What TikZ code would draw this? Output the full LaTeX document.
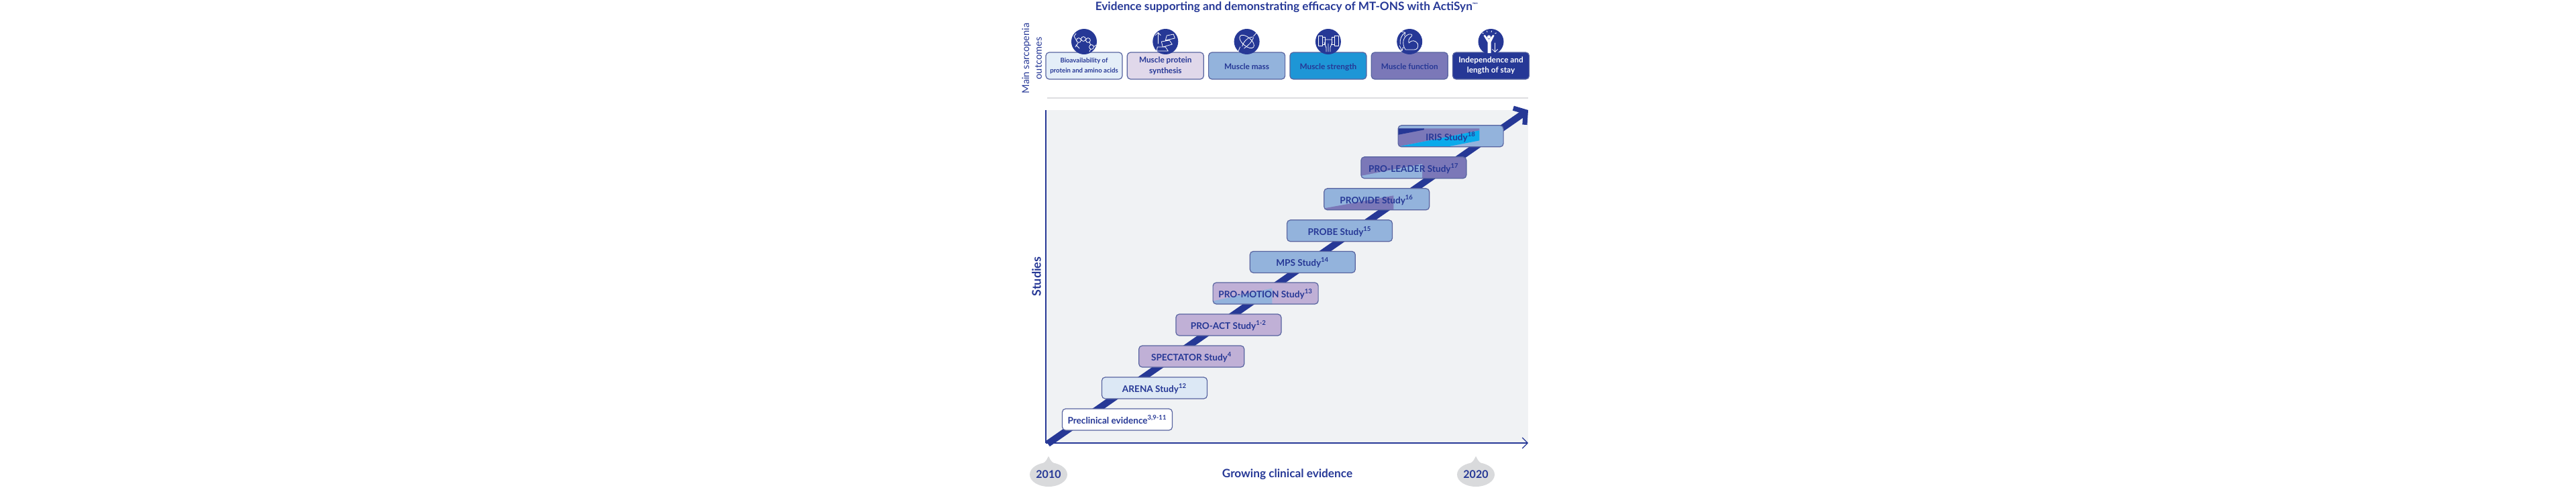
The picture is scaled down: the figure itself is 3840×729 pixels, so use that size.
\documentclass[tikz,border=0pt]{standalone}
\usepackage{fontspec}
\setmainfont{Lato}
\usetikzlibrary{shapes.geometric, arrows.meta, positioning}
\definecolor{navy}{RGB}{38,56,150}
\definecolor{edge}{RGB}{88,100,160}
\definecolor{panelgray}{RGB}{240,242,244}
\definecolor{rulegray}{RGB}{222,222,224}
\definecolor{yeargray}{RGB}{217,218,220}
\definecolor{paleblue}{RGB}{228,238,248}
\definecolor{arenablue}{RGB}{220,232,245}
\definecolor{palelilac}{RGB}{224,216,234}
\definecolor{lilac}{RGB}{192,176,214}
\definecolor{midblue}{RGB}{147,179,220}
\definecolor{strongblue}{RGB}{30,150,214}
\definecolor{cyanblue}{RGB}{10,170,235}
\definecolor{purple}{RGB}{123,120,184}

\begin{document}
\begin{tikzpicture}[x=0.5pt, y=-0.5pt, font=\bfseries, text=navy]
		\tikzstyle{outcome} = [rectangle, rounded corners=2.5pt, minimum width=57pt, minimum height=20pt, inner sep=0pt, align=center, draw=edge, line width=0.6pt, font=\bfseries\fontsize{5.9}{7.6}\selectfont, node distance=60.65pt]
		\tikzstyle{oneline} = [text height=5.2pt, text depth=0.2pt]
		\tikzstyle{ball} = [circle, fill=navy, minimum size=19pt, inner sep=0pt, node distance=18pt]
		\tikzstyle{study} = [rectangle, rounded corners=2.5pt, minimum width=78.5pt, minimum height=16pt, inner sep=0pt, text height=7.6pt, text depth=1.1pt, draw=edge, line width=0.6pt, font=\bfseries\fontsize{6.8}{8}\selectfont]
		\tikzstyle{tone} = [shift={(path picture bounding box.center)}, sharp corners]
		\tikzstyle{year} = [ellipse, fill=yeargray, minimum width=28pt, minimum height=18pt, inner sep=0pt, font=\bfseries\fontsize{8}{10}\selectfont]
		\tikzstyle{icon} = [white, line width=0.4pt, line cap=round, line join=round]
		\tikzstyle{arrow} = [->, >={Straight Barb[length=4pt, width=8pt]}]
		%-------------------------------------------------------
		% axes and panel
		\useasboundingbox (0,0) rectangle (3840,729);
		\coordinate (origin) at (1559,660);
		\coordinate (ytop) at (1559,164);
		\coordinate (xend) at (2278,660);
		\coordinate (runstart) at (1562,661);
		\coordinate (runend) at (2278,164);
		\fill [panelgray] (ytop) rectangle (xend);
		\draw [navy, line width=0.6pt] (origin) -- (ytop);
		\draw [arrow, navy, line width=0.6pt] (origin) -- (xend);
		\draw [navy, line width=5pt, -{Straight Barb[length=6pt, width=15pt, line width=3.6pt]}] (runstart) -- (runend);

		\node (title) at (1918,15) [anchor=base, font=\bfseries\fontsize{8.6}{10}\selectfont] {Evidence supporting and demonstrating efficacy of MT-ONS with ActiSyn\raisebox{2.6pt}{\fontsize{3.6}{4}\selectfont ™*}};
		\node (main) at (1530,87) [rotate=90, font=\fontsize{7.3}{9}\selectfont] {Main sarcopenia};
		\node (outc) at (1548,87) [rotate=90, font=\fontsize{7.3}{9}\selectfont] {outcomes};

		% top row
		\node (o1) at (1616,98) [outcome, fill=paleblue, font=\bfseries\fontsize{4.8}{7.4}\selectfont] {Bioavailability of\\protein and amino acids};
		\node (o2) [outcome, right of=o1, fill=palelilac] {Muscle protein\\synthesis};
		\node (o3) [outcome, oneline, right of=o2, fill=midblue] {Muscle mass};
		\node (o4) [outcome, oneline, right of=o3, fill=strongblue] {Muscle strength};
		\node (o5) [outcome, oneline, right of=o4, fill=purple] {Muscle function};
		\node (o6) [outcome, right of=o5, fill=navy, text=white] {Independence and\\length of stay};
		\foreach \n in {1,...,6}
			\node (ic\n) [ball, above of=o\n] {};
		\coordinate (ruleleft) at (1561,146);
		\coordinate (ruleright) at (2278,146);
		\draw [rulegray, line width=0.8pt] (ruleleft) -- (ruleright);

		% icons
		\begin{scope}[shift={(ic1)}, icon]
			\foreach \cx/\cy in {-8/-2,-1/-4,6/-2,11/8}
				\draw (\cx,\cy) circle (3.4);
			\draw (-11,-1) -- (-15,-8) -- (-12,-12) (-9,2) -- (-13,8) (-12,5) -- (-7,10) (8,1) -- (10,5) (14,8) -- (18,5) (10,11) -- (8,15);
		\end{scope}
		\begin{scope}[shift={(ic2)}, icon]
			\draw [-{Straight Barb[length=2pt, width=4pt]}] (-11,3) -- (-11,-14);
			\draw (-13,14) -- (4,14) -- (0,8) -- (-12,8) -- (-13,14) (-4,8) -- (10,4) -- (6,-2) -- (-6,0) -- (-4,8) (0,-2) -- (14,-5) -- (12,-11) -- (2,-9) -- (0,-2);
		\end{scope}
		\begin{scope}[shift={(ic3)}, icon]
			\draw [rotate=-40] (0,0) ellipse (13 and 6.5);
			\draw (-13,15) -- (-10,8) (16,-15) -- (10,-8) (-7,7) .. controls (-4,-2) and (3,-7) .. (9,-7) (-4,10) .. controls (2,6) and (8,0) .. (10,-6);
		\end{scope}
		\begin{scope}[shift={(ic4)}, icon]
			\draw (-15,-9) rectangle (-9,6) (15,-9) rectangle (9,6) (-9,-7) rectangle (-5,4) (9,-7) rectangle (5,4);
			\draw (-5,-3) -- (5,-3) (-6,1) -- (-3,9) -- (-3,15) (6,1) -- (3,9) -- (3,15) (0,3) -- (0,15);
		\end{scope}
		\begin{scope}[shift={(ic5)}, icon]
			\draw (-6,12) .. controls (-12,4) and (-10,-8) .. (-1,-11) .. controls (4,-12) and (5,-9) .. (2,-7) .. controls (-1,-5) and (-2,-1) .. (-1,2) .. controls (3,-3) and (9,-2) .. (12,3) .. controls (14,8) and (11,13) .. (6,12) -- cycle;
			\draw [-{Straight Barb[length=2pt, width=4pt]}] (-14,4) .. controls (-15,-3) and (-12,-10) .. (-6,-14);
			\draw [-{Straight Barb[length=2pt, width=4pt]}] (-15,6) -- (-11,14);
		\end{scope}
		\begin{scope}[shift={(ic6)}, icon]
			\fill (-3,-7) circle (2.6);
			\fill (-11,-9) -- (-9,-10) -- (-3,-3) -- (3,-10) -- (5,-9) -- (0,1) -- (0,17) -- (-5,17) -- (-5,1) -- cycle;
			\draw [-{Straight Barb[length=2pt, width=4pt]}] (6,2) -- (6,16);
			\draw (-13,-13) -- (-11,-12) (-6,-16) -- (-5.5,-14) (1,-16) -- (0.5,-14) (8,-13) -- (6,-12);
		\end{scope}

		% study steps
		\node (s0) at (1665.5,625) [study, minimum width=82pt, fill=white] {Preclinical evidence\textsuperscript{3,9-11}};
		\node (s1) at (1721,578) [study, fill=arenablue] {ARENA Study\textsuperscript{12}};
		\node (s2) [study, above of=s1, node distance=23.5pt, xshift=27.6pt, fill=lilac] {SPECTATOR Study\textsuperscript{4}};
		\node (s3) [study, above of=s2, node distance=23.5pt, xshift=27.6pt, fill=lilac] {PRO-ACT Study\textsuperscript{1-2}};
		\node (s4) [study, above of=s3, node distance=23.5pt, xshift=27.6pt, fill=lilac, path picture={\fill [midblue, tone] (-59.5,16) -- (80,-14) -- (80,18) -- cycle;}] {PRO-MOTION Study\textsuperscript{13}};
		\node (s5) [study, above of=s4, node distance=23.3pt, xshift=27.6pt, fill=midblue] {MPS Study\textsuperscript{14}};
		\node (s6) [study, above of=s5, node distance=23.3pt, xshift=27.6pt, fill=midblue] {PROBE Study\textsuperscript{15}};
		\node (s7) [study, above of=s6, node distance=23.5pt, xshift=27.6pt, fill=midblue, path picture={\fill [purple, tone] (-72,16) -- (80,-12) -- (80,18) -- cycle;}] {PROVIDE Study\textsuperscript{16}};
		\node (s8) [study, above of=s7, node distance=23.5pt, xshift=27.6pt, fill=purple, path picture={\fill [midblue, tone] (-65,16) -- (80,-12) -- (80,18) -- cycle;}] {PRO-LEADER Study\textsuperscript{17}};
		\node (s9) [study, above of=s8, node distance=23.5pt, xshift=27.6pt, fill=midblue, path picture={
			\fill [purple, tone] (-80,-18) -- (80,-18) -- (80,-15) -- (-75,16) -- (-80,18) -- cycle;
			\fill [cyanblue, tone] (-75,16) -- (80,-15) -- (80,0) -- (-2.5,16) -- cycle;
			\fill [navy, tone] (-80,-18) -- (-2.5,-18) -- (-2.5,-16) -- (-80,-1) -- cycle;}] {IRIS Study\textsuperscript{18}};

		% bottom labels
		\node (studies) at (1545,412) [rotate=90, font=\bfseries\fontsize{9}{10}\selectfont] {Studies};
		\node (y1) at (1563,707) [year] {2010};
		\node (y2) at (2200,707) [year] {2020};
		\fill [yeargray] ([xshift=-5pt, yshift=-1pt]y1.north) .. controls ([xshift=-1.5pt, yshift=0pt]y1.north) and ([xshift=-1pt, yshift=3pt]y1.north) .. ([yshift=4.5pt]y1.north) .. controls ([xshift=1pt, yshift=3pt]y1.north) and ([xshift=1.5pt, yshift=0pt]y1.north) .. ([xshift=5pt, yshift=-1pt]y1.north) -- cycle;
		\fill [yeargray] ([xshift=-5pt, yshift=-1pt]y2.north) .. controls ([xshift=-1.5pt, yshift=0pt]y2.north) and ([xshift=-1pt, yshift=3pt]y2.north) .. ([yshift=4.5pt]y2.north) .. controls ([xshift=1pt, yshift=3pt]y2.north) and ([xshift=1.5pt, yshift=0pt]y2.north) .. ([xshift=5pt, yshift=-1pt]y2.north) -- cycle;
		\node (grow) at (1919,707) [font=\bfseries\fontsize{8.6}{10}\selectfont] {Growing clinical evidence};
\end{tikzpicture}
\end{document}
